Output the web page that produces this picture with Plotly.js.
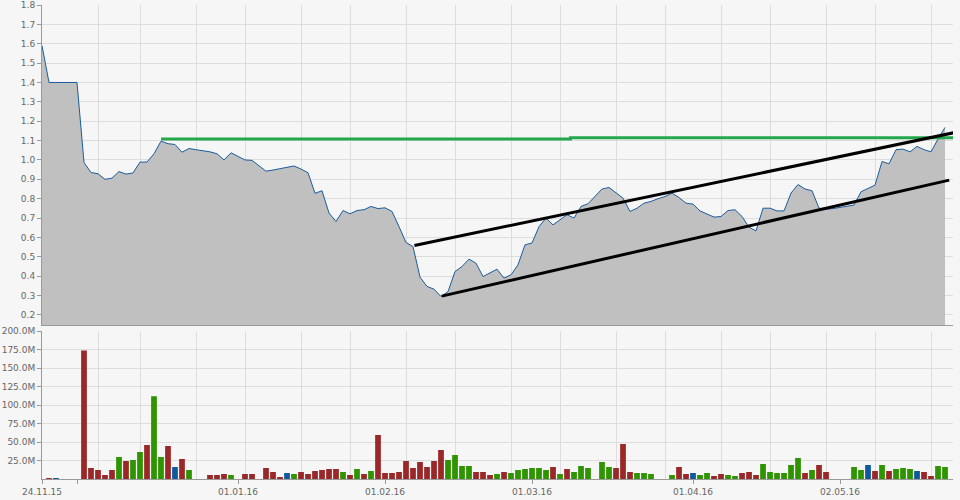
<!DOCTYPE html>
<html><head><meta charset="utf-8">
<script src="https://cdn.plot.ly/plotly-3.0.1.min.js"></script>
<style>html,body{margin:0;padding:0;background:#f6f6f6;}#chart{width:960px;height:500px;}</style>
</head><body><div id="chart"></div>
<script>
// Closing price per trading day (index 0 = 24.11.15)
const price = [
  1.59, 1.40, 1.40, 1.40, 1.40, 1.40,
  0.987, 0.935, 0.929, 0.90, 0.906, 0.94, 0.927, 0.933, 0.989, 0.989,
  1.032, 1.097, 1.084, 1.08, 1.04, 1.059, 1.053, 1.049, 1.042, 1.032,
  1.0, 1.037, 1.018, 1.0, 0.998, 0.971, 0.942, 0.948, 0.956, 0.963,
  0.969, 0.953, 0.934, 0.828, 0.841, 0.726, 0.682, 0.739, 0.722, 0.739,
  0.743, 0.76, 0.749, 0.753, 0.734, 0.656, 0.574, 0.553, 0.395, 0.347,
  0.333, 0.295, 0.32, 0.424, 0.45, 0.488, 0.467, 0.398, 0.416, 0.436,
  0.39, 0.407, 0.459, 0.562, 0.571, 0.656, 0.70, 0.665, 0.691, 0.717,
  0.70, 0.76, 0.774, 0.811, 0.85, 0.858, 0.829, 0.803, 0.734, 0.751,
  0.777, 0.786, 0.80, 0.811, 0.829, 0.806, 0.777, 0.772, 0.737, 0.722,
  0.705, 0.708, 0.739, 0.743, 0.708, 0.653, 0.634, 0.751, 0.751, 0.737,
  0.737, 0.829, 0.873, 0.85, 0.841, 0.751, 0.746, 0.749, 0.756, 0.76,
  0.767, 0.836, 0.853, 0.87, 0.992, 0.98, 1.053, 1.056, 1.042, 1.07,
  1.053, 1.042, 1.108, 1.168
];
// Volume in millions per trading day
const volumeM = [
  0, 1.5, 1.5, 0, 0, 0, 174, 14.9, 12.2, 5.4,
  12.2, 29.8, 24.4, 25.7, 36.5, 46, 112, 29.8, 44.7, 16.2,
  27, 12.2, 0, 0, 5.4, 5.4, 6.8, 5.4, 0, 6.8,
  6.8, 0, 14.9, 9.5, 2.7, 8.1, 6.8, 9.5, 6.8, 10.8,
  12.2, 13.5, 13.5, 9.5, 5.4, 13.5, 6.8, 10.8, 59.6, 8.1,
  8.1, 9.5, 24.4, 14.9, 23, 16.2, 24.4, 39.3, 25.7, 32.5,
  17.6, 17.6, 9.5, 9.5, 5.4, 6.8, 9.5, 8.1, 12.2, 13.5,
  14.9, 14.9, 12.2, 16.2, 6.8, 13.5, 9.5, 17.6, 14.9, 0,
  23, 16.2, 14.9, 47.4, 9.5, 8.1, 8.1, 6.8, 0, 0,
  5.4, 16.2, 6.8, 8.1, 5.4, 8.1, 4.1, 6.8, 5.4, 4.1,
  8.1, 9.5, 5.4, 20.3, 9.5, 8.1, 8.1, 19, 28.4, 8.1,
  12.2, 19, 9.5, 0, 0, 0, 16.2, 12.2, 19, 10.8,
  19, 10.8, 13.5, 14.9, 13.5, 10.8, 9.5, 4.1, 17.6, 16.2
];
// Day direction: u = up, d = down, n = unchanged
const direction = (
  "ndnnnndddd" + "duduuduudn" + "dunndddund" + "dndddnuddd" + "dddudududd" +
  "dddddddduu" + "uuddduduuu" + "uuududuuun" + "uuddduuunn" + "uddnuudduu" +
  "ddduuuuuud" + "uddnnnuund" + "uduuundduu"
).split('');

const dateTickIdx = [0, 5, 28, 49, 70, 93, 114];
const dateTickLabels = ['24.11.15', '', '01.01.16', '01.02.16', '01.03.16', '01.04.16', '02.05.16'];
const gridIdx = [8.1, 14, 22, 29.1, 37.1, 44, 52.1, 59, 67, 74, 82, 89, 97, 104, 112, 119, 127];
const volTickVals = [25, 50, 75, 100, 125, 150, 175, 200];
const volTickText = ['25.0M', '50.0M', '75.0M', '100.0M', '125.0M', '150.0M', '175.0M', '200.0M'];

// Drawn lines (resistance and trend channel)
const resistanceX = [17, 75.5, 75.5, 131.5];
const resistanceY = [1.108, 1.108, 1.115, 1.115];
const upperTrendX = [53.2, 131.1];
const upperTrendY = [0.558, 1.147];
const lowerTrendX = [57.1, 129.6];
const lowerTrendY = [0.297, 0.896];

const dirColor = {u: '#2e9400', d: '#9b2828', n: '#0e5a9c'};
const idx = price.map((_, i) => i);

const traces = [
  {x: idx, y: price, type: 'scatter', mode: 'lines', fill: 'tozeroy',
   fillcolor: '#c0c0c0', line: {color: '#1a5c9e', width: 1}, xaxis: 'x', yaxis: 'y', hoverinfo: 'skip'},
  {x: resistanceX, y: resistanceY, type: 'scatter', mode: 'lines',
   line: {color: '#22a84a', width: 3}, xaxis: 'x', yaxis: 'y', hoverinfo: 'skip'},
  {x: upperTrendX, y: upperTrendY, type: 'scatter', mode: 'lines',
   line: {color: '#000000', width: 3}, xaxis: 'x', yaxis: 'y', hoverinfo: 'skip'},
  {x: lowerTrendX, y: lowerTrendY, type: 'scatter', mode: 'lines',
   line: {color: '#000000', width: 3}, xaxis: 'x', yaxis: 'y', hoverinfo: 'skip'},
  {x: idx, y: volumeM, type: 'bar', width: 0.82,
   marker: {color: direction.map(d => dirColor[d]), line: {width: 0}},
   xaxis: 'x2', yaxis: 'y2', hoverinfo: 'skip'}
];

const xRange = [0, 130.14];
const layout = {
  width: 960, height: 500,
  margin: {l: 42, r: 7, t: 5, b: 21},
  paper_bgcolor: '#f6f6f6', plot_bgcolor: '#f6f6f6',
  showlegend: false,
  font: {family: 'DejaVu Sans', size: 9, color: '#666666'},
  xaxis: {domain: [0, 1], anchor: 'y', range: xRange, tickmode: 'array', tickvals: gridIdx,
    showticklabels: false, ticks: '', showgrid: true, gridcolor: '#dddddd', gridwidth: 1,
    zeroline: false, showline: true, linecolor: '#9a9a9a', linewidth: 1, fixedrange: true},
  yaxis: {domain: [0.3249, 1], anchor: 'x', range: [0.148, 1.8], tick0: 0.2, dtick: 0.1,
    tickformat: '.1f', ticks: 'outside', ticklen: 4, tickcolor: '#9a9a9a',
    showline: true, linecolor: '#9a9a9a', gridcolor: '#dddddd', zeroline: false},
  xaxis2: {domain: [0, 1], anchor: 'y2', range: xRange, tickmode: 'array',
    tickvals: dateTickIdx, ticktext: dateTickLabels, ticks: 'outside', ticklen: 4,
    tickcolor: '#9a9a9a', showgrid: false,
    minor: {tickmode: 'array', tickvals: gridIdx, showgrid: true, gridcolor: '#dddddd', ticks: ''},
    showline: true, linecolor: '#9a9a9a', zeroline: false},
  yaxis2: {domain: [0, 0.3116], anchor: 'x2', range: [0, 200], tickmode: 'array',
    tickvals: volTickVals, ticktext: volTickText, ticks: 'outside', ticklen: 4,
    tickcolor: '#9a9a9a', showline: true, linecolor: '#9a9a9a', gridcolor: '#dddddd', zeroline: false}
};

Plotly.newPlot('chart', traces, layout, {staticPlot: true, displayModeBar: false});
</script>
</body></html>
